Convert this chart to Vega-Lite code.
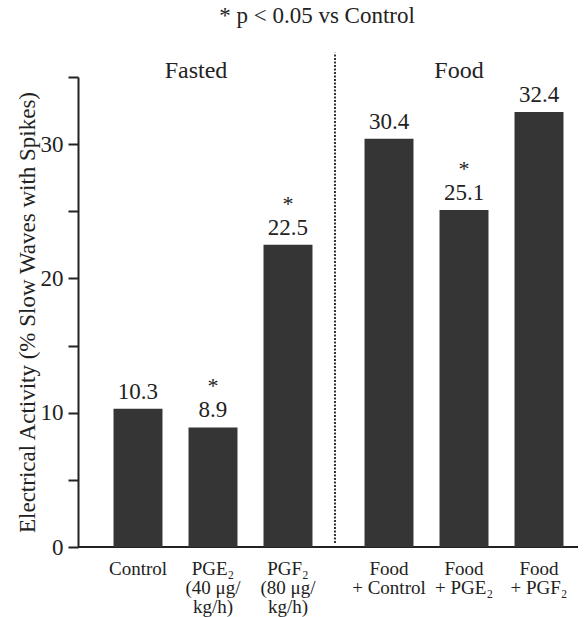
{
  "$schema": "https://vega.github.io/schema/vega-lite/v6.json",
  "width": 500,
  "height": 470,
  "autosize": {"type": "none"},
  "padding": {"left": 78, "top": 77, "right": 10, "bottom": 70},
  "background": "white",
  "title": {
    "text": "* p < 0.05 vs Control",
    "font": "Times New Roman, Liberation Serif, serif",
    "fontSize": 23,
    "fontWeight": "normal",
    "color": "#222",
    "anchor": "middle",
    "dx": -11,
    "offset": 24
  },
  "config": {
    "view": {"stroke": null},
    "font": "Times New Roman, Liberation Serif, serif",
    "text": {"font": "Times New Roman, Liberation Serif, serif", "color": "#222"}
  },
  "data": {
    "values": [
      {"group": "Fasted", "drug": "Control", "value": 10.3, "sig": "", "label": "Control"},
      {"group": "Fasted", "drug": "PGE₂", "value": 8.9, "sig": "*", "label": "PGE₂\n(40 μg/\nkg/h)"},
      {"group": "Fasted", "drug": "PGF₂", "value": 22.5, "sig": "*", "label": "PGF₂\n(80 μg/\nkg/h)"},
      {"group": "Food", "drug": "Control", "value": 30.4, "sig": "", "label": "Food\n+ Control"},
      {"group": "Food", "drug": "PGE₂", "value": 25.1, "sig": "*", "label": "Food\n+ PGE₂"},
      {"group": "Food", "drug": "PGF₂", "value": 32.4, "sig": "", "label": "Food\n+ PGF₂"}
    ]
  },
  "layer": [
    {
      "mark": {"type": "rule", "color": "#222", "strokeWidth": 2},
      "encoding": {"y": {"datum": 0, "type": "quantitative"}}
    },
    {
      "mark": {"type": "bar", "color": "#353535"},
      "encoding": {
        "x": {
          "field": "group", "type": "nominal",
          "scale": {"paddingInner": 0.1036, "paddingOuter": 0.0478, "align": 0.9375},
          "axis": {
            "orient": "top", "title": null, "domain": false, "ticks": false,
            "labelAngle": 0, "labelFont": "Times New Roman, Liberation Serif, serif", "labelFontSize": 24,
            "labelColor": "#222", "labelBaseline": "alphabetic", "labelPadding": 0,
            "labelOffset": {"condition": {"test": "datum.value === 'Fasted'", "value": -17}, "value": -5}
          }
        },
        "xOffset": {
          "field": "drug", "type": "nominal", "sort": ["Control", "PGE₂", "PGF₂"],
          "scale": {"paddingInner": 0.347, "paddingOuter": 0.1735}
        },
        "y": {
          "field": "value", "type": "quantitative",
          "scale": {"domain": [0, 35], "nice": false},
          "axis": {
            "title": "Electrical Activity (% Slow Waves with Spikes)",
            "values": [0, 5, 10, 15, 20, 25, 30, 35],
            "labelExpr": "datum.value % 10 === 0 ? datum.label : ''",
            "grid": false,
            "tickSize": 10, "tickWidth": 2, "tickColor": "#222",
            "domainWidth": 2, "domainColor": "#222",
            "labelFont": "Times New Roman, Liberation Serif, serif", "labelFontSize": 23, "labelColor": "#222", "labelPadding": 5,
            "titleFont": "Times New Roman, Liberation Serif, serif", "titleFontSize": 23, "titleFontWeight": "normal", "titleColor": "#222", "titlePadding": 1
          }
        }
      }
    },
    {
      "mark": {"type": "text", "font": "Times New Roman, Liberation Serif, serif", "fontSize": 23, "baseline": "alphabetic", "dy": -10},
      "encoding": {
        "x": {"field": "group", "type": "nominal"},
        "xOffset": {"field": "drug", "type": "nominal", "sort": ["Control", "PGE₂", "PGF₂"]},
        "y": {"field": "value", "type": "quantitative"},
        "text": {"field": "value", "type": "quantitative", "format": ".1f"}
      }
    },
    {
      "mark": {"type": "text", "font": "Times New Roman, Liberation Serif, serif", "fontSize": 22, "baseline": "alphabetic", "dy": -34},
      "encoding": {
        "x": {"field": "group", "type": "nominal"},
        "xOffset": {"field": "drug", "type": "nominal", "sort": ["Control", "PGE₂", "PGF₂"]},
        "y": {"field": "value", "type": "quantitative"},
        "text": {"field": "sig", "type": "nominal"}
      }
    },
    {
      "mark": {"type": "text", "font": "Times New Roman, Liberation Serif, serif", "fontSize": 19, "baseline": "alphabetic", "dy": 28, "lineBreak": "\n", "lineHeight": 19},
      "encoding": {
        "x": {"field": "group", "type": "nominal"},
        "xOffset": {"field": "drug", "type": "nominal", "sort": ["Control", "PGE₂", "PGF₂"]},
        "y": {"datum": 0, "type": "quantitative"},
        "text": {"field": "label", "type": "nominal"}
      }
    },
    {
      "transform": [{"filter": "datum.group === 'Fasted' && datum.drug === 'Control'"}],
      "mark": {"type": "rule", "color": "#333", "strokeWidth": 2, "strokeDash": [2, 1.5]},
      "encoding": {
        "x": {"field": "group", "type": "nominal", "bandPosition": 1.0422},
        "y": {"datum": 0.3, "type": "quantitative"},
        "y2": {"datum": 36.8}
      }
    }
  ]
}
